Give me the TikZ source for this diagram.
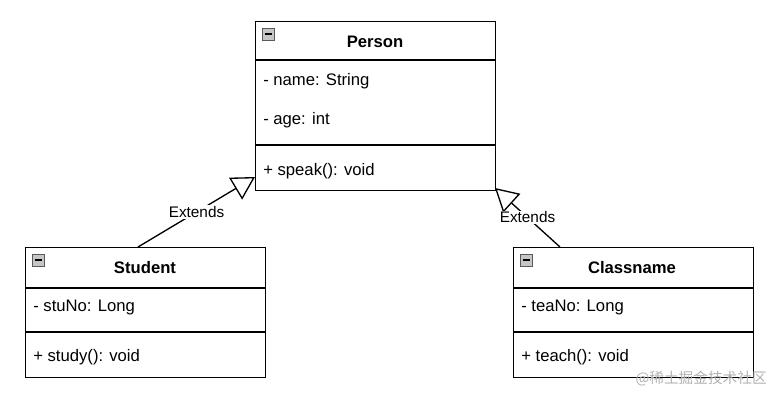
\documentclass[tikz,border=0pt]{standalone}
\usepackage{fontspec}
\setmainfont{Liberation Sans}
\newfontfamily\cjk{Noto Sans CJK SC}
\usetikzlibrary{arrows.meta, positioning}
\tikzset{
  classbox/.style={rectangle, draw=black, line width=1pt, minimum width=180pt, anchor=north west, inner sep=0pt},
  member/.style={anchor=west, inner sep=0pt, font=\fontsize{12.5}{14}\selectfont},
  title/.style={font=\fontsize{12.5}{14}\selectfont\bfseries, inner sep=0pt},
  inherit/.style={line width=1pt, -{Triangle[open,length=17pt,width=19pt]}},
  lbl/.style={fill=white, inner sep=1pt, font=\fontsize{11.5}{13}\selectfont}
}
\newcommand{\minbox}[1]{%
  \fill[gray!45] ([shift={(7,7)}]#1.north west) rectangle +(12,12);
  \draw[gray!70!black, line width=0.6pt] ([shift={(7,7)}]#1.north west) rectangle +(12,12);
  \draw[black, line width=1.2pt] ([shift={(9.5,13)}]#1.north west) -- +(7,0);}
\begin{document}
\begin{tikzpicture}[x=0.75pt, y=-0.75pt]
  \useasboundingbox[fill=white] (0,0) rectangle (780,401);

  % Boxes
  \node (person) [classbox, minimum height=169*0.75pt] at (255,21) {};
  \node (student) [classbox, minimum height=130*0.75pt] at (25,247) {};
  \node (classname) [classbox, minimum height=130*0.75pt] at (513,247) {};

  % Compartments
  \draw[line width=1pt] (255,60) -- (495,60) (255,145) -- (495,145);
  \draw[line width=1pt] (25,288) -- (265,288) (25,332) -- (265,332);
  \draw[line width=1pt] (513,288) -- (753,288) (513,332) -- (753,332);
  \minbox{person}
  \minbox{student}
  \minbox{classname}

  % Texts
  \node (personT) [title] at (375,42) {Person};
  \node (pname) [member] at (263,81) {- name: String};
  \node (page) [member] at (263,120) {- age: int};
  \node (pspeak) [member] at (263,171) {+ speak(): void};
  \node (studentT) [title] at (145,268) {Student};
  \node (stuno) [member] at (33,307) {- stuNo: Long};
  \node (study) [member] at (33,357) {+ study(): void};
  \node (classT) [title] at (632,268) {Classname};
  \node (teano) [member] at (521,307) {- teaNo: Long};
  \node (teach) [member] at (521,357) {+ teach(): void};

  % Arrows
  \coordinate (sTop) at (138,247);
  \coordinate (pLeft) at (255,177);
  \coordinate (cTop) at (560,247);
  \coordinate (pRight) at (495,188);
  \draw [inherit] (sTop) -- node[lbl] {Extends} (pLeft);
  \draw [inherit] (cTop) -- node[lbl] {Extends} (pRight);

  % Watermark
  \node (mark) [anchor=east, text=gray!60, inner sep=0pt, font=\cjk\fontsize{11}{13}\selectfont] at (767,379) {@稀土掘金技术社区};
\end{tikzpicture}
\end{document}
